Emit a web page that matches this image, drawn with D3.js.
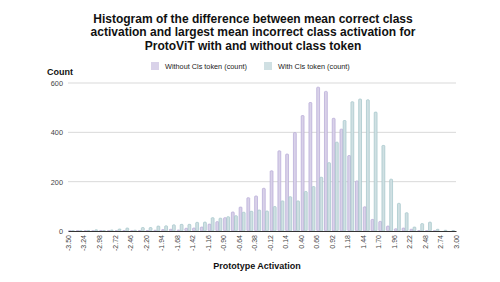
<!DOCTYPE html>
<html>
<head>
<meta charset="utf-8">
<script src="https://cdn.jsdelivr.net/npm/d3@7"></script>
<style>
  body { margin: 0; background: #fff; }
  text { font-family: "Liberation Sans", Arial, sans-serif; }
</style>
</head>
<body>
<div id="chart"></div>
<script>
// histogram bins (start of each 0.13 wide bin)
var binStarts = [-3.50, -3.37, -3.24, -3.11, -2.98, -2.85, -2.72, -2.59, -2.46, -2.33,
  -2.20, -2.07, -1.94, -1.81, -1.68, -1.55, -1.42, -1.29, -1.16, -1.03,
  -0.90, -0.77, -0.64, -0.51, -0.38, -0.25, -0.12, 0.01, 0.14, 0.27,
  0.40, 0.53, 0.66, 0.79, 0.92, 1.05, 1.18, 1.31, 1.44, 1.57,
  1.70, 1.83, 1.96, 2.09, 2.22, 2.35, 2.48, 2.61, 2.74, 2.87];

var withoutCls = [1, 1, 1, 1, 2, 1, 1, 2, 1, 2,
  2, 3, 6, 7, 4, 11, 12, 16, 28, 38,
  54, 77, 97, 135, 142, 173, 244, 325, 312, 399,
  468, 521, 583, 566, 457, 413, 306, 203, 98, 47,
  39, 20, 9, 12, 7, 2, 1, 1, 0, 0];

var withCls = [1, 1, 2, 5, 2, 4, 8, 12, 3, 14,
  14, 20, 21, 25, 27, 27, 35, 36, 54, 52,
  58, 62, 76, 80, 85, 81, 99, 122, 139, 122,
  160, 180, 218, 277, 360, 448, 524, 535, 532, 482,
  347, 210, 112, 74, 16, 30, 36, 7, 3, 2];

var xTicks = [-3.50, -3.24, -2.98, -2.72, -2.46, -2.20, -1.94, -1.68, -1.42, -1.16,
  -0.90, -0.64, -0.38, -0.12, 0.14, 0.40, 0.66, 0.92, 1.18, 1.44,
  1.70, 1.96, 2.22, 2.48, 2.74, 3.00];
var yTicks = [0, 200, 400, 600];

var seriesNames = ["Without Cls token (count)", "With Cls token (count)"];
var fills = ["#d9d2e9", "#d0e0e3"];
var strokes = ["#b4a7d6", "#a2c4c9"];

var binWidth = 0.13;

var svgWidth = 500;
var svgHeight = 282;

var margin = { top: 83, right: 44, bottom: 51, left: 68 };
var width = svgWidth - margin.left - margin.right;
var height = svgHeight - margin.top - margin.bottom;

var svg = d3.select("#chart")
  .append("svg")
  .attr("width", svgWidth)
  .attr("height", svgHeight);

// title
var titleLines = [
  "Histogram of the difference between mean correct class",
  "activation and largest mean incorrect class activation for",
  "ProtoViT with and without class token"
];
svg.append("g").selectAll("text")
  .data(titleLines)
  .enter()
  .append("text")
  .attr("x", 253)
  .attr("y", (d, i) => 22.8 + i * 13.4)
  .attr("text-anchor", "middle")
  .style("font-size", "12px")
  .style("font-weight", "bold")
  .style("fill", "#111")
  .text(d => d);

// legend
var legendX = [151, 264];
var legend = svg.append("g");
seriesNames.forEach(function(name, i) {
  legend.append("rect")
    .attr("x", legendX[i])
    .attr("y", 62)
    .attr("width", 8)
    .attr("height", 8)
    .attr("fill", fills[i]);
  legend.append("text")
    .attr("x", legendX[i] + 14)
    .attr("y", 68.5)
    .style("font-size", "7.3px")
    .style("fill", "#222")
    .text(name);
});

var chartGroup = svg.append("g")
  .attr("transform", `translate(${margin.left}, ${margin.top})`);

var xScale = d3.scaleLinear()
  .domain([-3.5, 3.0])
  .range([0, width]);

var yScale = d3.scaleLinear()
  .domain([0, 600])
  .range([height, 0]);

var binPx = xScale(binWidth) - xScale(0);
var inner = d3.scaleBand()
  .domain([0, 1])
  .range([0.4, binPx - 1.35])
  .paddingInner(0.1);

// gridlines
chartGroup.append("g")
  .selectAll("line")
  .data(yTicks.slice(1))
  .enter()
  .append("line")
  .attr("x1", 0)
  .attr("x2", width)
  .attr("y1", d => yScale(d))
  .attr("y2", d => yScale(d))
  .attr("stroke", "#d9d9d9")
  .attr("stroke-width", 1);

// y axis labels
var leftAxis = d3.axisLeft(yScale).tickValues(yTicks).tickSize(0).tickPadding(5);
var yAxisG = chartGroup.append("g").call(leftAxis);
yAxisG.select(".domain").remove();
yAxisG.selectAll("text")
  .style("font-family", "'Liberation Sans', Arial, sans-serif")
  .style("font-size", "7.3px")
  .style("fill", "#444");

// bars
var series = [withoutCls, withCls];
series.forEach(function(vals, s) {
  chartGroup.append("g")
    .selectAll("rect")
    .data(vals)
    .enter()
    .append("rect")
    .attr("x", (d, i) => xScale(binStarts[i]) + inner(s))
    .attr("y", d => yScale(d))
    .attr("width", inner.bandwidth())
    .attr("height", d => height - yScale(d))
    .attr("rx", 0.8)
    .attr("fill", fills[s])
    .attr("stroke", strokes[s])
    .attr("stroke-width", 0.7);
});

// baseline + x axis labels
var bottomAxis = d3.axisBottom(xScale)
  .tickValues(xTicks)
  .tickSize(0)
  .tickPadding(4)
  .tickFormat(d => d.toFixed(2));

var xAxisG = chartGroup.append("g")
  .attr("transform", `translate(0, ${height})`)
  .call(bottomAxis);
xAxisG.select(".domain").attr("stroke", "#333").attr("stroke-width", 1);
xAxisG.selectAll("text")
  .style("font-family", "'Liberation Sans', Arial, sans-serif")
  .style("font-size", "7px")
  .style("fill", "#444")
  .attr("transform", "rotate(-90)")
  .attr("text-anchor", "end")
  .attr("x", -4)
  .attr("y", 0)
  .attr("dy", "0.35em");

// axis titles
svg.append("text")
  .attr("x", 47)
  .attr("y", 75)
  .style("font-size", "9px")
  .style("font-weight", "bold")
  .style("fill", "#111")
  .text("Count");

svg.append("text")
  .attr("x", 257)
  .attr("y", 269)
  .attr("text-anchor", "middle")
  .style("font-size", "9px")
  .style("font-weight", "bold")
  .style("fill", "#111")
  .text("Prototype Activation");
</script>
</body>
</html>
